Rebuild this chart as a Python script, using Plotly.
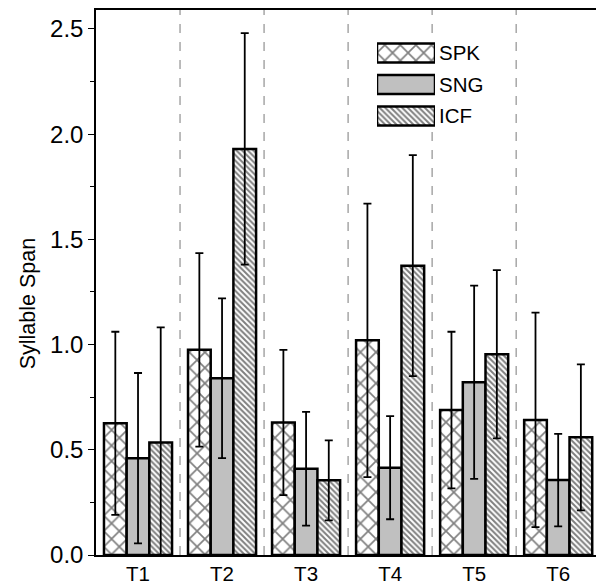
import plotly.graph_objects as go

categories = ["T1", "T2", "T3", "T4", "T5", "T6"]
series = ["SPK", "SNG", "ICF"]
spk = [0.626, 0.975, 0.63, 1.02, 0.689, 0.642]
spk_err = [0.435, 0.46, 0.345, 0.65, 0.372, 0.51]
sng = [0.46, 0.84, 0.41, 0.415, 0.821, 0.356]
sng_err = [0.405, 0.38, 0.27, 0.245, 0.459, 0.22]
icf = [0.535, 1.93, 0.355, 1.375, 0.954, 0.559]
icf_err = [0.547, 0.55, 0.19, 0.525, 0.40, 0.347]
y_ticks = [0.0, 0.5, 1.0, 1.5, 2.0, 2.5]
y_title = "Syllable Span"

FONT = "Liberation Sans, Arial, Helvetica, sans-serif"

styles = {
    "SPK": dict(color="white", pattern=dict(shape="x", size=11, solidity=0.28, fgcolor="black", bgcolor="white", fillmode="overlay")),
    "SNG": dict(color="#c0c0c0"),
    "ICF": dict(color="white", pattern=dict(shape="\\", size=4, solidity=0.5, fgcolor="black", bgcolor="white", fillmode="overlay")),
}


def marker_for(name, lw):
    st = styles[name]
    m = dict(color=st["color"], line=dict(color="black", width=lw))
    if "pattern" in st:
        m["pattern"] = st["pattern"]
    return m


fig = go.Figure()
for name, vals, errs in zip(series, [spk, sng, icf], [spk_err, sng_err, icf_err]):
    fig.add_trace(go.Bar(
        x=categories, y=vals, name=name, marker=marker_for(name, 2.5), showlegend=False,
        error_y=dict(type="data", array=errs, color="black", thickness=1.8, width=4),
    ))

# legend keys drawn on a small auxiliary axis, one swatch per series
for name in series:
    fig.add_trace(go.Bar(
        y=[name], x=[1], orientation="h", xaxis="x2", yaxis="y2", width=0.6,
        marker=marker_for(name, 2.5), showlegend=False, cliponaxis=False, hoverinfo="skip",
    ))

for i in range(len(categories) - 1):
    fig.add_shape(type="line", xref="x", yref="paper", x0=i + 0.5, x1=i + 0.5, y0=0, y1=1,
                  line=dict(color="#999999", width=1.3, dash="dash"), layer="below")

fig.add_annotation(text=y_title, xref="paper", yref="paper", x=-0.136, y=0.46,
                   textangle=-90, showarrow=False, font=dict(size=21.5),
                   xanchor="center", yanchor="middle")

fig.update_layout(
    width=596, height=585,
    margin=dict(l=96, r=0, t=10, b=30),
    paper_bgcolor="white", plot_bgcolor="white",
    barmode="group", bargap=0.19, bargroupgap=0,
    font=dict(family=FONT, size=20.5, color="black"),
    showlegend=False,
    xaxis2=dict(domain=[0.562, 0.678], range=[0, 1], anchor="y2", visible=False, fixedrange=True),
    yaxis2=dict(domain=[0.7766, 0.95], anchor="x2", type="category", autorange="reversed",
                side="right", showline=False, showgrid=False, zeroline=False, ticks="",
                ticklabelstandoff=3, tickfont=dict(size=20.5), automargin=False),
    xaxis=dict(
        type="category", range=[-0.5, 5.45], showline=True, linecolor="black", linewidth=1.5,
        mirror=True, ticks="", showgrid=False, tickfont=dict(size=20.5), automargin=False,
    ),
    yaxis=dict(
        range=[0, 2.59], tickvals=y_ticks, ticktext=[f"{v:.1f}" for v in y_ticks],
        showline=True, linecolor="black", linewidth=1.5, mirror=False,
        ticks="outside", ticklen=6, tickwidth=1.2, tickcolor="black",
        minor=dict(dtick=0.25, ticks="outside", ticklen=4, tickcolor="black", tickwidth=1.2),
        showgrid=False, zeroline=False, tickfont=dict(size=24), automargin=False,
    ),
)

fig.write_html("out.html")
